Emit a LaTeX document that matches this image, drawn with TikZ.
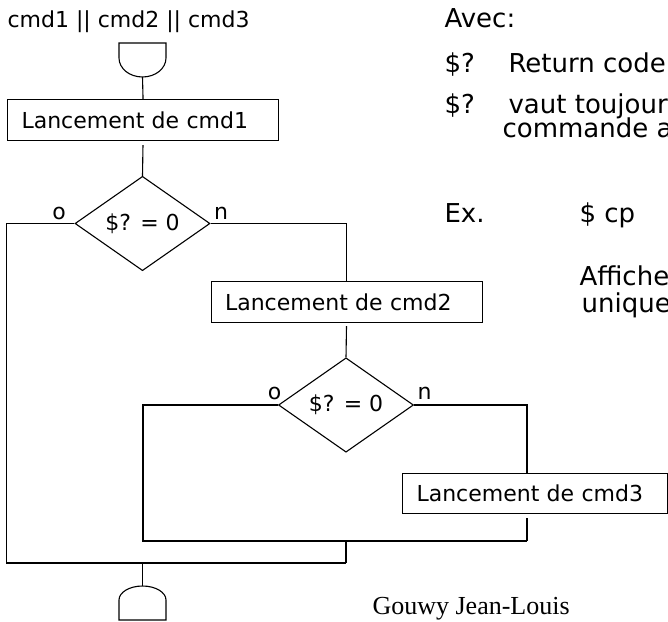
\documentclass[tikz,border=0pt]{standalone}
\usepackage{fontspec}
\setmainfont{DejaVu Sans}
\newfontfamily\gouwyfont{Liberation Serif}
\usepackage{tikz}
\usetikzlibrary{positioning, shapes.geometric, calc}

\begin{document}
\begin{tikzpicture}[x=1pt, y=1pt, line width=1.1pt,
  box/.style={draw, rectangle, anchor=north west, minimum height=41pt, inner xsep=14pt,
    text width=243pt, align=left, font=\fontsize{22}{26}\selectfont},
  test/.style={draw, diamond, inner sep=0pt, minimum width=135pt, minimum height=89pt,
    font=\fontsize{22}{26}\selectfont},
  lbl/.style={inner sep=0pt, font=\fontsize{22}{26}\selectfont},
  note/.style={anchor=base west, inner sep=0pt, font=\fontsize{26}{30}\selectfont}]
  \useasboundingbox (0,0) rectangle (668,-621);

  \node[lbl, anchor=base west] (titre) at (7,-27) {cmd1 || cmd2 || cmd3};

  % debut et fin
  \draw (119,-43) -- (166,-43) -- (166,-58)
    arc[start angle=0, end angle=-180, x radius=23.5pt, y radius=19pt] -- cycle;
  \coordinate (t1) at (142.5,-77);
  \draw (119,-620) -- (119,-600)
    arc[start angle=180, end angle=0, x radius=23.5pt, y radius=14pt] -- (166,-620) -- cycle;
  \coordinate (t2) at (142.5,-586);

  \node[box] (c1) at (7,-99) {Lancement de cmd1};
  \node[test] (d1) at (142.5,-223.5) {\$? = 0};
  \node[box] (c2) at (210.5,-281) {Lancement de cmd2};
  \node[test, minimum height=90pt] (d2) at (346,-405) {\$? = 0};
  \node[box, text width=237pt, minimum height=40pt] (c3) at (402,-473) {Lancement de cmd3};

  \node[lbl, above left=3pt and 8pt of d1.west] (o1) {o};
  \node[lbl, above right=3pt and 3pt of d1.east] (n1) {n};
  \node[lbl, above left=5pt and -4pt of d2.west] (o2) {o};
  \node[lbl, above right=5pt and 3pt of d2.east] (n2) {n};

  \coordinate (j1) at (346,-563);
  \coordinate (j2) at (527,-541);

  \draw (t1) -- (c1.north);
  \draw[shorten <=4pt] (c1.south) -- (d1.north);
  \draw (d1.west) -- ++(-68,0) |- (j1);
  \draw (d1.east) -| (c2.north);
  \draw[shorten <=3pt] (c2.south) -- (d2.north);
  \draw (d2.west) -- ++(-135,0) |- (j2);
  \draw (d2.east) -| ([xshift=125pt]c3.north west);
  \draw[shorten <=4pt] ([xshift=125pt]c3.south west) -- (j2);
  \draw (j1 |- j2) -- (j1);
  \draw (t2) -- (t2 |- j1);

  \node[note] (avec) at (444,-27) {Avec:};
  \node[note] (rc1) at (444,-72) {\$?};
  \node[note] (rc1t) at (508,-72) {Return code};
  \node[note] (rc2) at (444,-113) {\$?};
  \node[note] (rc2t) at (508,-113) {vaut toujour};
  \node[note] (rc2u) at (502,-137) {commande a};
  \node[note] (ex) at (444,-222) {Ex.};
  \node[note] (excmd) at (579,-222) {\$ cp};
  \node[note] (aff) at (579,-285) {Affiche};
  \node[note] (uniq) at (581,-312) {unique};
  \node[note, font=\gouwyfont\fontsize{26}{30}\selectfont] (auteur) at (372,-614) {Gouwy Jean-Louis};
\end{tikzpicture}
\end{document}
